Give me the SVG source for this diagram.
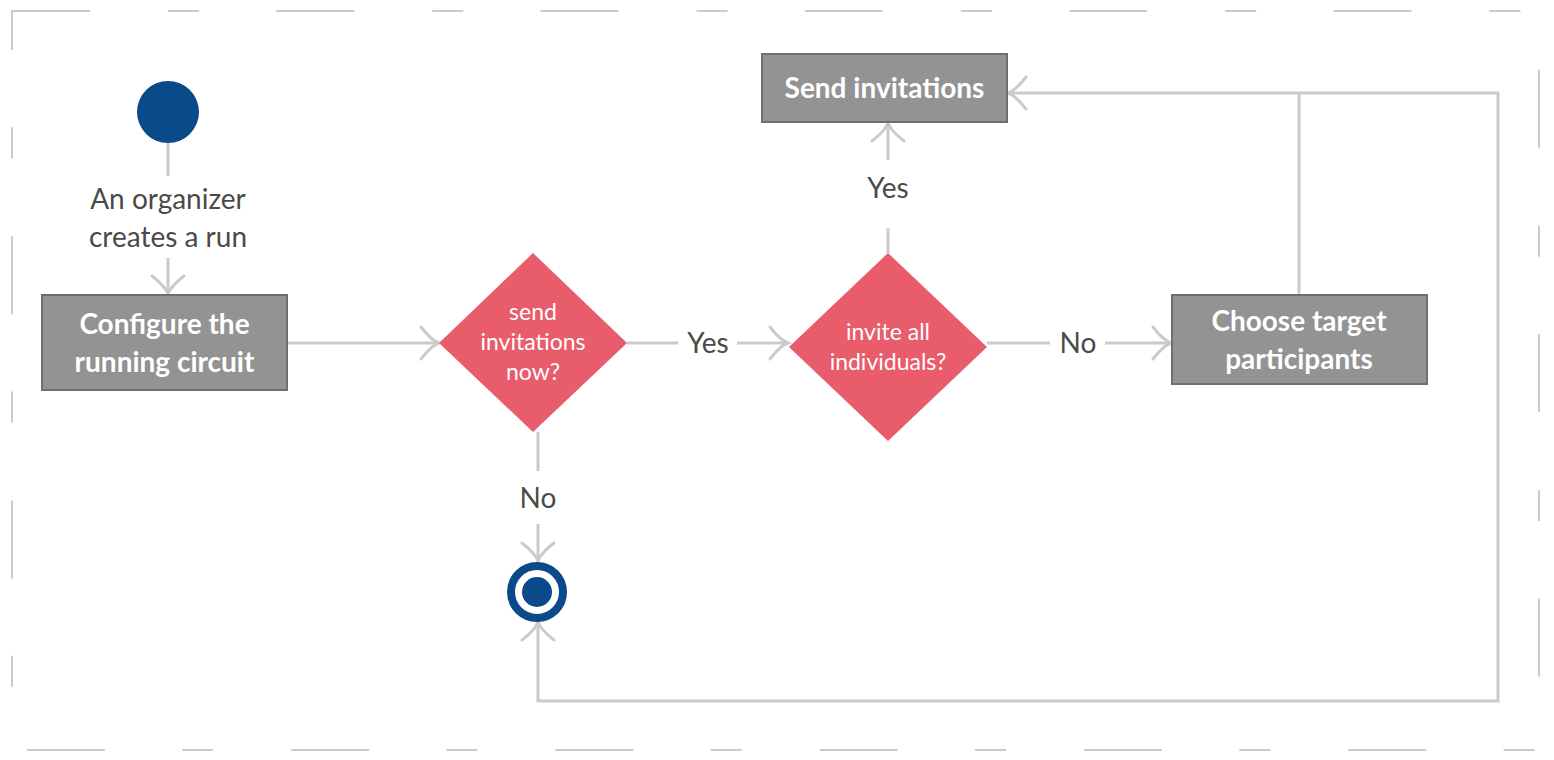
<svg xmlns="http://www.w3.org/2000/svg" width="1554" height="760" viewBox="0 0 1554 760">
  <defs>
    <marker id="arr" markerUnits="userSpaceOnUse" markerWidth="40" markerHeight="40" viewBox="-22 -20 26 40" refX="0" refY="0" orient="auto" overflow="visible">
      <path d="M-18,-16 Q-8,-3 0,0 Q-8,3 -18,16" fill="none" stroke="#cbcbcb" stroke-width="3" stroke-linecap="round"/>
    </marker>
    <style>
      .frame{fill:none;stroke:#cbcbcb;stroke-width:2;stroke-dasharray:78 78 31 77.3}
      .conn{fill:none;stroke:#cbcbcb;stroke-width:3}
      .box{fill:#939393;stroke:#6f6f6f;stroke-width:2}
      .dia{fill:#e85c6b}
      .btxt{font-family:Lato,"Liberation Sans",sans-serif;font-weight:bold;font-size:28px;fill:#ffffff;text-anchor:middle}
      .dtxt{font-family:Lato,"Liberation Sans",sans-serif;font-size:23px;fill:#ffffff;text-anchor:middle}
      .lbl{font-family:Lato,"Liberation Sans",sans-serif;font-size:28px;fill:#4a4a4a;text-anchor:middle}
      .blue{fill:#0a4a8b}
    </style>
  </defs>
  <rect width="1554" height="760" fill="#ffffff"/>
  <rect class="frame" x="12" y="11" width="1527" height="739"/>

  <g id="connectors">
    <path class="conn" d="M168,143 V176"/>
    <path class="conn" d="M168,258 V294" marker-end="url(#arr)"/>
    <path class="conn" d="M287,343 H439" marker-end="url(#arr)"/>
    <path class="conn" d="M627,343 H678"/>
    <path class="conn" d="M737,343 H788" marker-end="url(#arr)"/>
    <path class="conn" d="M987,343 H1050"/>
    <path class="conn" d="M1105,343 H1171" marker-end="url(#arr)"/>
    <path class="conn" d="M888,253 V228"/>
    <path class="conn" d="M888,160 V123" marker-end="url(#arr)"/>
    <path class="conn" d="M538,432 V471"/>
    <path class="conn" d="M538,524 V561" marker-end="url(#arr)"/>
    <path class="conn" d="M1299,295 V93 H1008" marker-end="url(#arr)"/>
    <path class="conn" d="M1299,93 H1498 V701 H538 V622" marker-end="url(#arr)"/>
    <text class="lbl" x="168" y="209">An organizer</text>
    <text class="lbl" x="168" y="247">creates a run</text>
    <text class="lbl" x="708" y="353">Yes</text>
    <text class="lbl" x="1078" y="353">No</text>
    <text class="lbl" x="888" y="198">Yes</text>
    <text class="lbl" x="538" y="508">No</text>
  </g>

  <g id="start">
    <circle class="blue" cx="168" cy="112" r="31"/>
  </g>

  <g id="configure">
    <rect class="box" x="42" y="295" width="245" height="95"/>
    <text class="btxt" x="164.5" y="334">Configure the</text>
    <text class="btxt" x="164.5" y="372">running circuit</text>
  </g>

  <g id="decision-send-now">
    <polygon class="dia" points="533,253 627,343 533,432 439,343"/>
    <text class="dtxt" x="533" y="320">send</text>
    <text class="dtxt" x="533" y="350">invitations</text>
    <text class="dtxt" x="533" y="380">now?</text>
  </g>

  <g id="decision-invite-all">
    <polygon class="dia" points="888,253 987,347 888,441 789,347"/>
    <text class="dtxt" x="888" y="340">invite all</text>
    <text class="dtxt" x="888" y="370">individuals?</text>
  </g>

  <g id="send-invitations">
    <rect class="box" x="762" y="54" width="245" height="68"/>
    <text class="btxt" x="884.5" y="98">Send invitations</text>
  </g>

  <g id="choose-target">
    <rect class="box" x="1172" y="295" width="255" height="89"/>
    <text class="btxt" x="1299" y="331">Choose target</text>
    <text class="btxt" x="1299" y="369">participants</text>
  </g>

  <g id="end">
    <circle cx="537" cy="592" r="26" fill="none" stroke="#0a4a8b" stroke-width="8"/>
    <circle class="blue" cx="537" cy="592" r="15"/>
  </g>
</svg>
